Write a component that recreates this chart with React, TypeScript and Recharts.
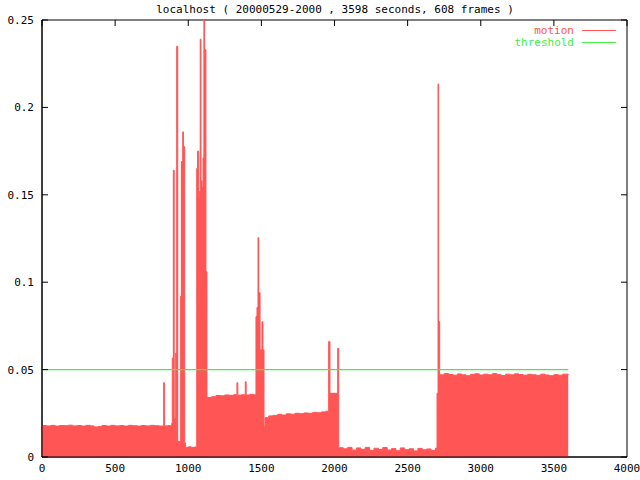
import { ComposedChart, Area, Line, XAxis, YAxis, ReferenceArea } from 'recharts'

// seconds since start
const frameTimes = [
  0, 30, 60, 90, 120, 150, 180, 210, 240, 270, 300, 330, 355, 385, 410, 440, 470, 500,
  530, 560, 590, 620, 650, 680, 710, 740, 770, 800, 832, 838, 860, 880, 887, 891, 898,
  904, 914, 921, 928, 948, 953, 959, 962, 967, 976, 982, 1000, 1020, 1040, 1058, 1064,
  1071, 1078, 1082, 1087, 1094, 1101, 1107, 1112, 1121, 1128, 1160, 1190, 1220, 1250,
  1280, 1310, 1333, 1339, 1365, 1390, 1396, 1420, 1445, 1463, 1470, 1477, 1482, 1491,
  1504, 1511, 1518, 1525, 1550, 1580, 1610, 1640, 1670, 1700, 1730, 1760, 1790, 1820,
  1850, 1880, 1910, 1940, 1960, 1969, 2022, 2029, 2060, 2090, 2120, 2150, 2180, 2210,
  2240, 2270, 2300, 2330, 2360, 2390, 2420, 2450, 2480, 2510, 2540, 2570, 2600, 2630,
  2660, 2690, 2701, 2708, 2712, 2719, 2750, 2780, 2810, 2840, 2870, 2900, 2930, 2960,
  2990, 3020, 3050, 3080, 3110, 3140, 3170, 3200, 3230, 3260, 3290, 3320, 3350, 3380,
  3410, 3440, 3470, 3500, 3530, 3560, 3598,
]

const motionValues = [
  0.018, 0.0178, 0.0181, 0.0177, 0.018, 0.0179, 0.0182, 0.0178, 0.018, 0.0177, 0.0181,
  0.0178, 0.0172, 0.0175, 0.018, 0.0177, 0.0181, 0.0178, 0.018, 0.0177, 0.0181, 0.0179,
  0.0177, 0.018, 0.0178, 0.0181, 0.0179, 0.0177, 0.0425, 0.0178, 0.018, 0.0177, 0.0193,
  0.0566, 0.164, 0.0217, 0.0595, 0.235, 0.0088, 0.092, 0.169, 0.092, 0.186, 0.1775,
  0.008, 0.0055, 0.0058, 0.0055, 0.0057, 0.165, 0.175, 0.148, 0.152, 0.239, 0.158, 0.154,
  0.171, 0.25, 0.233, 0.106, 0.0341, 0.0345, 0.0352, 0.035, 0.0355, 0.0353, 0.0356,
  0.0425, 0.0354, 0.0356, 0.043, 0.0355, 0.0358, 0.0356, 0.0803, 0.0855, 0.1255, 0.094,
  0.0612, 0.0774, 0.0612, 0.0173, 0.0225, 0.0235, 0.0238, 0.0244, 0.024, 0.0247, 0.0245,
  0.025, 0.0248, 0.0252, 0.025, 0.0255, 0.0253, 0.0258, 0.0262, 0.066, 0.0364, 0.0622,
  0.0053, 0.0047, 0.0055, 0.004, 0.0052, 0.0044, 0.0055, 0.0038, 0.005, 0.0043, 0.0054,
  0.004, 0.0048, 0.0036, 0.0052, 0.0042, 0.0047, 0.0035, 0.0049, 0.0041, 0.0046, 0.0038,
  0.005, 0.0364, 0.2134, 0.0774, 0.047, 0.0478, 0.0472, 0.0468, 0.0475, 0.047, 0.0465,
  0.0473, 0.0476, 0.0469, 0.0474, 0.047, 0.0477, 0.0471, 0.0466, 0.0474, 0.047, 0.0476,
  0.0472, 0.0468, 0.0473, 0.047, 0.0467, 0.0474, 0.0469, 0.0465, 0.0471, 0.0468, 0.0474,
  0.047,
]

// threshold drawn from first to last second
const thresholdTimes = [0, 3598]
const thresholdValues = [0.05, 0.05]

const xTicks = [0, 500, 1000, 1500, 2000, 2500, 3000, 3500, 4000]
const yTicks = [0, 0.05, 0.1, 0.15, 0.2, 0.25]

const data = frameTimes.map((t, i) => ({ t, motion: motionValues[i] }))
const thresholdData = thresholdTimes.map((t, i) => ({ t, threshold: thresholdValues[i] }))

const MONO = '"DejaVu Sans Mono", "Liberation Mono", monospace'
const RED = '#ff5555'
const GREEN = '#44ee44'

// layout
const W = 640
const H = 480
const MARGIN = { top: 20, right: 13, bottom: 0, left: 0 }
const YAXIS_W = 42
const XAXIS_H = 23
const PLOT_LEFT = MARGIN.left + YAXIS_W
const PLOT_RIGHT = W - MARGIN.right
const PLOT_TOP = MARGIN.top
const TICK_LEN = 6

function XTick(props: any) {
  const { x, y, payload } = props
  return (
    <g>
      <line x1={x} x2={x} y1={PLOT_TOP} y2={PLOT_TOP + TICK_LEN} stroke="#000" />
      <text x={x} y={y} dy="0.71em" textAnchor="middle" fill="#000" fontSize={11} fontFamily={MONO}>
        {String(payload.value)}
      </text>
    </g>
  )
}

function YTick(props: any) {
  const { x, y, payload } = props
  return (
    <g>
      <line x1={PLOT_LEFT} x2={PLOT_LEFT + TICK_LEN} y1={y} y2={y} stroke="#000" />
      <line x1={PLOT_RIGHT - TICK_LEN} x2={PLOT_RIGHT} y1={y} y2={y} stroke="#000" />
      <text x={x} y={y} dy="0.355em" textAnchor="end" fill="#000" fontSize={11} fontFamily={MONO}>
        {String(payload.value)}
      </text>
    </g>
  )
}

function LegendRow({ label, color, top }: { label: string; color: string; top: number }) {
  return (
    <div style={{ position: 'absolute', top, left: 0, width: W, height: 11 }}>
      <span
        style={{
          position: 'absolute',
          right: W - 574,
          top: 0,
          color,
          fontFamily: MONO,
          fontSize: 11,
          lineHeight: '11px',
          whiteSpace: 'nowrap',
        }}
      >
        {label}
      </span>
      <div style={{ position: 'absolute', left: 582, width: 34, top: 5, height: 1, background: color }} />
    </div>
  )
}

export default function App() {
  return (
    <div style={{ position: 'absolute', left: 0, top: 0, width: W, height: H, background: '#fff' }}>
      <ComposedChart width={W} height={H} data={data} margin={MARGIN}>
        <XAxis
          dataKey="t"
          type="number"
          domain={[0, 4000]}
          ticks={xTicks}
          interval={0}
          height={XAXIS_H}
          stroke="#000"
          tick={XTick}
          tickLine={false}
          tickSize={0}
          tickMargin={7}
          allowDataOverflow
        />
        <YAxis
          type="number"
          domain={[0, 0.25]}
          ticks={yTicks}
          interval={0}
          width={YAXIS_W}
          stroke="#000"
          tick={YTick}
          tickLine={false}
          tickSize={0}
          tickMargin={8}
          allowDataOverflow
        />
        <ReferenceArea x1={0} x2={4000} y1={0} y2={0.25} fill="none" stroke="#000" strokeWidth={1} />
        <Area
          type="stepAfter"
          dataKey="motion"
          fill={RED}
          fillOpacity={1}
          stroke={RED}
          strokeWidth={1}
          dot={false}
          activeDot={false}
          isAnimationActive={false}
        />
        <Line
          data={thresholdData}
          dataKey="threshold"
          type="linear"
          stroke={GREEN}
          strokeWidth={1.2}
          dot={false}
          activeDot={false}
          isAnimationActive={false}
        />
      </ComposedChart>
      <div
        style={{
          position: 'absolute',
          top: 3,
          left: 0,
          width: 670,
          textAlign: 'center',
          fontFamily: MONO,
          fontSize: 11,
          lineHeight: '14px',
          color: '#000',
          whiteSpace: 'pre',
        }}
      >
        {'localhost ( 20000529-2000 , 3598 seconds, 608 frames )'}
      </div>
      <LegendRow label="motion" color={RED} top={25} />
      <LegendRow label="threshold" color={GREEN} top={37} />
    </div>
  )
}
